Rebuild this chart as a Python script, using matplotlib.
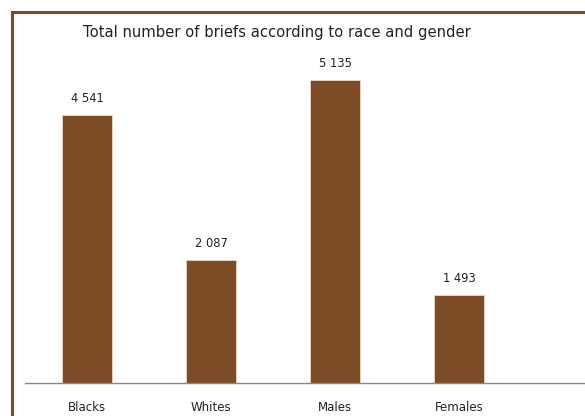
import matplotlib
matplotlib.use("Agg")
import matplotlib.pyplot as plt
from matplotlib.patches import Rectangle

categories = ["Blacks", "Whites", "Males", "Females"]
values = [4541, 2087, 5135, 1493]
value_labels = ["4 541", "2 087", "5 135", "1 493"]
title = "Total number of briefs according to race and gender"

brown = "#7E4B27"

W, H = 585, 416
fig = plt.figure(figsize=(W / 100, H / 100), dpi=100)
fig.patch.set_facecolor("white")

# frame around the chart (runs off the right and bottom edges)
fig.patches.append(Rectangle((12 / W, -0.1), 1.2, 1 - 11.5 / H + 0.1,
                             transform=fig.transFigure, fill=False,
                             edgecolor=brown, linewidth=2.2, zorder=0))

left, right, bottom, top = 25, 585, 383, 40
ax = fig.add_axes([left / W, 1 - bottom / H, (right - left) / W, (bottom - top) / H])
x = list(range(len(categories)))
ax.bar(x, values, width=0.403, color=brown, edgecolor="#e8d8cc", linewidth=0.6)
ax.set_xlim(-0.5, 4.016)
ax.set_ylim(0, 5813)

for xi, v, lab in zip(x, values, value_labels):
    ax.annotate(lab, (xi, v), xytext=(0, 7), textcoords="offset points",
                ha="center", va="bottom", fontsize=8.3, color="#222222",
                family="DejaVu Sans")

ax.set_xticks(x)
ax.set_xticklabels(categories, fontsize=8.5, color="#222222", family="DejaVu Sans")
ax.tick_params(axis="x", length=0, pad=13)
ax.set_yticks([])
for s in ["top", "right", "left"]:
    ax.spines[s].set_visible(False)
ax.spines["bottom"].set_color("#888888")
ax.spines["bottom"].set_linewidth(1.0)
ax.set_facecolor("none")

fig.text(83 / W, 1 - 32 / H, title, fontsize=10.6, color="#222222",
         ha="left", va="center", family="DejaVu Sans")

fig.savefig("out.png", dpi=100, facecolor="white")
